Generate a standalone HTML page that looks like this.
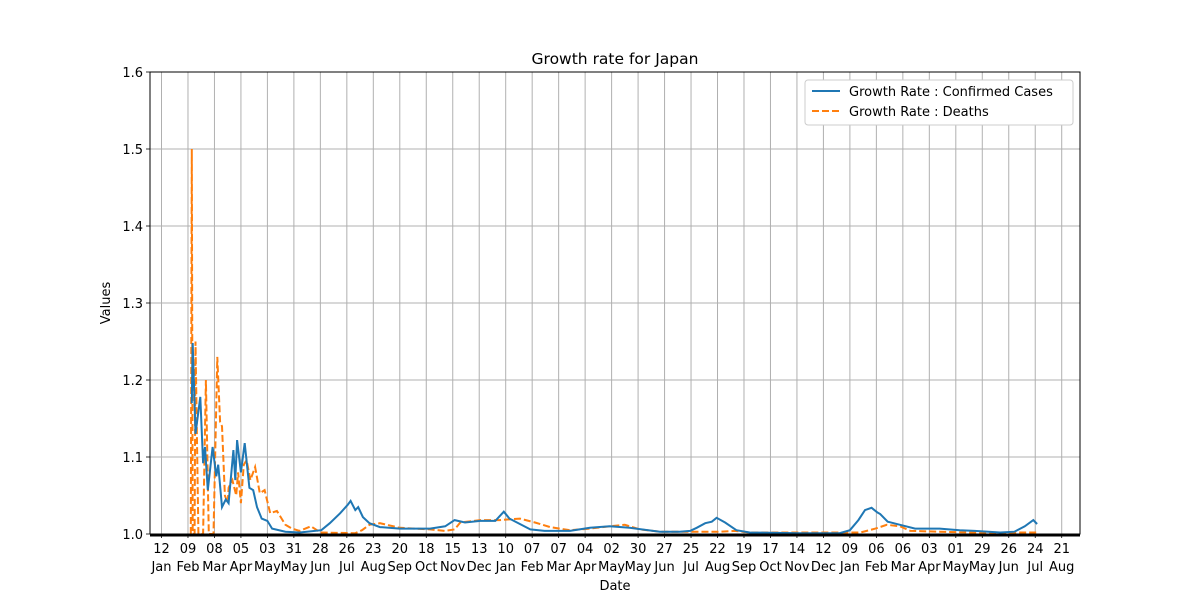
<!DOCTYPE html>
<html><head><meta charset="utf-8"><style>
body{margin:0;background:#fff;font-family:"DejaVu Sans","Liberation Sans",sans-serif;}
svg text{font-family:"DejaVu Sans","Liberation Sans",sans-serif;fill:#000;}
</style></head><body>
<svg id="chart" width="1200" height="600" xmlns="http://www.w3.org/2000/svg"></svg>
<script>
// day offsets since 2020-01-12
const confDays=[32,33,36,41,44,46,49,54,58,60,64,68,71,76,78,80,84,88,93,97,101,106,112,117,131,146,169,178,189,197,200,205,208,213,220,231,252,284,300,310,321,337,353,362,368,379,390,405,432,453,474,495,527,548,559,566,575,582,587,596,608,622,675,717,728,737,744,751,757,760,768,781,797,823,844,860,887,902,913,922,926];
const confVals=[1.17,1.248,1.13,1.178,1.092,1.113,1.057,1.113,1.075,1.09,1.035,1.045,1.04,1.109,1.07,1.122,1.08,1.118,1.06,1.057,1.035,1.02,1.017,1.007,1.003,1.002,1.005,1.014,1.027,1.038,1.043,1.031,1.035,1.022,1.014,1.009,1.007,1.007,1.01,1.018,1.015,1.017,1.017,1.029,1.02,1.013,1.006,1.004,1.004,1.008,1.01,1.008,1.003,1.003,1.004,1.008,1.014,1.016,1.021,1.015,1.005,1.002,1.001,1.001,1.005,1.018,1.031,1.034,1.028,1.026,1.016,1.012,1.007,1.007,1.005,1.004,1.002,1.003,1.01,1.018,1.013];
const deathDays=[31,32,33,35,36,39,44,47,50,52,55,59,62,64,67,70,71,75,79,81,84,87,90,94,99,104,109,115,122,131,138,146,158,168,205,212,220,231,252,284,300,310,316,337,358,379,395,411,432,453,474,490,506,527,591,606,622,739,755,767,781,792,823,855,926];
const deathVals=[1.0,1.5,1.0,1.0,1.25,1.0,1.0,1.2,1.0,1.0,1.0,1.23,1.145,1.14,1.05,1.04,1.06,1.07,1.05,1.08,1.04,1.09,1.096,1.07,1.087,1.053,1.057,1.027,1.03,1.012,1.007,1.004,1.01,1.002,1.001,1.005,1.012,1.014,1.008,1.006,1.004,1.006,1.015,1.018,1.018,1.02,1.015,1.009,1.005,1.007,1.01,1.012,1.006,1.003,1.003,1.004,1.002,1.002,1.007,1.012,1.01,1.004,1.003,1.002,1.002];
const yTicks=[1.0,1.1,1.2,1.3,1.4,1.5,1.6];
const NS="http://www.w3.org/2000/svg";
const svg=document.getElementById('chart');
const L=150,R=1080,T=72,B=534;
const x=d=>161.5+d*0.9456;
const y=v=>B-(v-1.0)*770;
function el(tag,attrs,parent){const e=document.createElementNS(NS,tag);for(const k in attrs)e.setAttribute(k,attrs[k]);(parent||svg).appendChild(e);return e;}
const months=["Jan","Feb","Mar","Apr","May","Jun","Jul","Aug","Sep","Oct","Nov","Dec"];
const start=Date.UTC(2020,0,12);
// grid + ticks
for(let i=0;i<=34;i++){
  const d=i*28,px=x(d);
  const g=el('line',{x1:px,x2:px,y1:T,y2:B,stroke:'#b0b0b0','stroke-width':1});
  
  el('line',{x1:px,x2:px,y1:B,y2:B+4,stroke:'#000','stroke-width':0.8});
  const dt=new Date(start+d*86400000);
  const t1=el('text',{x:px,y:553,'font-size':13,'text-anchor':'middle'});t1.textContent=String(dt.getUTCDate()).padStart(2,'0');
  
  const t2=el('text',{x:px,y:571,'font-size':13,'text-anchor':'middle'});t2.textContent=months[dt.getUTCMonth()];
  
}
for(let d=-7;x(d)<R;d+=7){if(x(d)>L)el('line',{x1:x(d),x2:x(d),y1:B,y2:B+2,stroke:'#000','stroke-width':0.6});}
yTicks.forEach(v=>{
  const g=el('line',{x1:L,x2:R,y1:y(v),y2:y(v),stroke:'#b0b0b0','stroke-width':1});
  
  el('line',{x1:L-4,x2:L,y1:y(v),y2:y(v),stroke:'#000','stroke-width':0.8});
  const t=el('text',{x:L-7,y:y(v)+5,'font-size':13,'text-anchor':'end'});t.textContent=v.toFixed(1);
  
});
const clip=el('clipPath',{id:'pc'});el('rect',{x:L,y:T,width:R-L,height:B-T},clip);
function path(days,vals){return days.map((d,i)=>(i?'L':'M')+x(d).toFixed(1)+','+y(vals[i]).toFixed(1)).join('');}
const pd=el('path',{d:path(deathDays,deathVals),fill:'none',stroke:'#ff7f0e','stroke-width':2,'stroke-dasharray':'7,3','clip-path':'url(#pc)'});

const pcf=el('path',{d:path(confDays,confVals),fill:'none',stroke:'#1f77b4','stroke-width':2,'clip-path':'url(#pc)'});

const base=el('line',{x1:L,x2:R,y1:B+1,y2:B+1,stroke:'#000','stroke-width':3});

const fr=el('rect',{x:L,y:T,width:R-L,height:B-T,fill:'none',stroke:'#000','stroke-width':1});

const title=el('text',{x:615,y:64,'font-size':15.5,'text-anchor':'middle'});title.textContent='Growth rate for Japan';

const xl=el('text',{x:615,y:590,'font-size':13,'text-anchor':'middle'});xl.textContent='Date';

const yl=el('text',{x:110,y:303,'font-size':13,'text-anchor':'middle',transform:'rotate(-90 110 303)'});yl.textContent='Values';

const lg=el('g',{});
el('rect',{x:805,y:80,width:268,height:45,rx:3,fill:'#fff',stroke:'#ccc','stroke-width':1},lg);
const e1=el('g',{},lg);
el('line',{x1:812,x2:840,y1:91,y2:91,stroke:'#1f77b4','stroke-width':2},e1);
const lt1=el('text',{x:849,y:96,'font-size':13},e1);lt1.textContent='Growth Rate : Confirmed Cases';
const e2=el('g',{},lg);
el('line',{x1:812,x2:840,y1:111,y2:111,stroke:'#ff7f0e','stroke-width':2,'stroke-dasharray':'7,3'},e2);
const lt2=el('text',{x:849,y:116,'font-size':13},e2);lt2.textContent='Growth Rate : Deaths';
</script>
</body></html>
